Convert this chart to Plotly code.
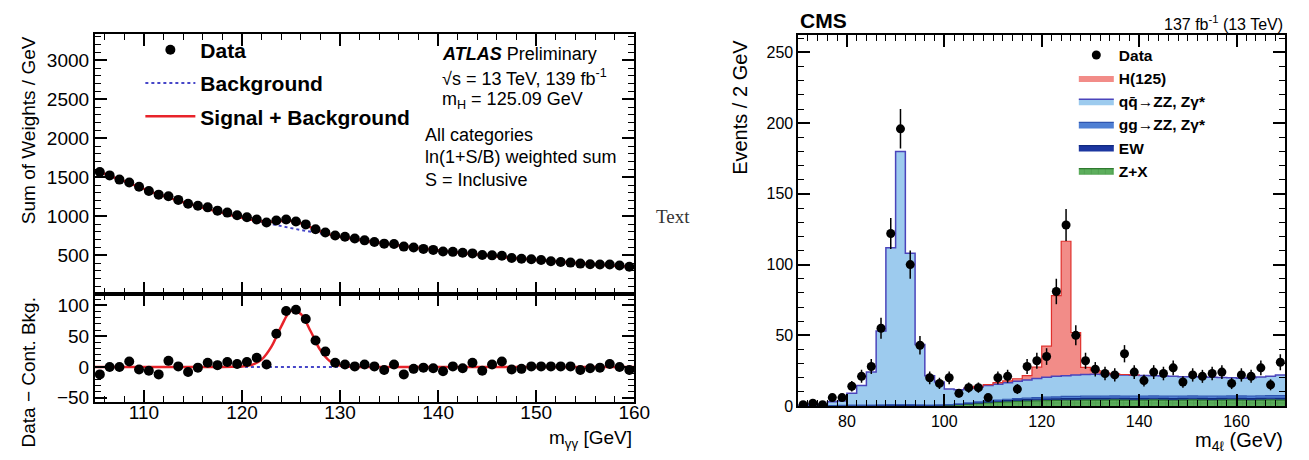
import numpy as np
import plotly.graph_objects as go

W, H = 1309, 460


def px(x):
    return x / W


def py(y):
    return 1 - y / H


# ---------------- ATLAS (left) ----------------
atlas_centres = np.arange(105.5, 160.0, 1.0)
atlas_data = [1567, 1524, 1470, 1432, 1378, 1323, 1277, 1256, 1210, 1160,
              1134, 1114, 1072, 1047, 1013, 988, 959, 921, 946, 959,
              934, 896, 833, 792, 754, 737, 714, 691, 670, 649,
              645, 611, 599, 582, 569, 549, 544, 532, 524, 503,
              499, 494, 465, 456, 448, 440, 423, 415, 406, 393,
              386, 381, 381, 368, 352]
atlas_resid = [-12, 0, 0, 9, -4, -6, -12, 10, 1, -8,
               -1, 7, 3, 8, 5, 8, 15, 4, 54, 91,
               93, 78, 43, 25, 7, 4, 1, 4, 1, -5,
               4, -12, -3, -1, -2, -7, 1, -2, 7, -6,
               4, 9, -4, -3, 1, 1, 1, 1, 1, -5,
               -2, -1, 5, 0, -5]

curve_mass = np.arange(105, 161, 1.0)
bkg_curve = [1580, 1545, 1495, 1450, 1400, 1350, 1300, 1260, 1220, 1180,
             1145, 1110, 1075, 1045, 1010, 980, 952, 925, 898, 872,
             848, 824, 800, 778, 756, 736, 716, 697, 678, 660,
             643, 626, 610, 594, 579, 564, 550, 536, 523, 510,
             497, 485, 473, 462, 451, 440, 430, 420, 410, 401,
             392, 383, 375, 367, 359, 351]
sig_curve = [0, 0, 0, 0, 0, 0, 0, 0, 0, 0,
             0, 0, 0, 0, 0.3, 1, 3.5, 12, 33, 66,
             91, 86, 58, 27, 9, 2.5, 0.5, 0, 0, 0,
             0, 0, 0, 0, 0, 0, 0, 0, 0, 0,
             0, 0, 0, 0, 0, 0, 0, 0, 0, 0,
             0, 0, 0, 0, 0, 0]

# ---------------- CMS (right) ----------------
cms_edges = np.arange(70, 172, 2)
cms_centres = cms_edges[:-1] + 1
cms_data = [1, 2, 1, 6, 6, 14, 21, 28, 55, 122,
            196, 100, 43, 20, 16, 20, 9, 13, 13, 6,
            20, 21, 12, 28, 32, 35, 81, 128, 50, 32,
            26, 23, 22, 37, 24, 18, 24, 23, 27, 17,
            22, 21, 23, 24, 16, 22, 21, 27, 15, 31]
cms_err = [1, 1.4, 1, 2.4, 2.4, 3.7, 4.6, 5.3, 7.4, 11,
           14, 10, 6.6, 4.5, 4, 4.5, 3, 3.6, 3.6, 2.4,
           4.5, 4.6, 3.5, 5.3, 5.7, 5.9, 9, 11.3, 7.1, 5.7,
           5.1, 4.8, 4.7, 6.1, 4.9, 4.2, 4.9, 4.8, 5.2, 4.1,
           4.7, 4.6, 4.8, 4.9, 4, 4.7, 4.6, 5.2, 3.9, 5.6]
zx = [0.1, 0.1, 0.1, 0.1, 0.2, 0.2, 0.2, 0.2, 0.3, 0.3,
      0.3, 0.3, 0.3, 0.3, 0.4, 0.5, 0.8, 1.2, 1.7, 2.2,
      2.6, 3.0, 3.3, 3.5, 3.7, 3.9, 4.0, 4.1, 4.1, 4.2,
      4.2, 4.2, 4.3, 4.2, 4.1, 4.2, 4.3, 4.2, 4.1, 4.2,
      4.3, 4.2, 4.1, 4.2, 4.3, 4.2, 4.1, 4.2, 4.3, 4.2]
ew = [0.1, 0.1, 0.1, 0.1, 0.1, 0.1, 0.1, 0.1, 0.1, 0.1,
      0.1, 0.1, 0.1, 0.1, 0.2, 0.3, 0.4, 0.5, 0.6, 0.7,
      0.8, 0.9, 1.0, 1.0, 1.1, 1.1, 1.1, 1.2, 1.2, 1.2,
      1.2, 1.2, 1.2, 1.2, 1.2, 1.2, 1.2, 1.2, 1.2, 1.2,
      1.2, 1.2, 1.2, 1.2, 1.2, 1.2, 1.2, 1.2, 1.2, 1.2]
gg = [0.1, 0.1, 0.1, 0.1, 0.2, 0.3, 0.3, 0.4, 0.5, 0.6,
      0.7, 0.6, 0.4, 0.3, 0.3, 0.3, 0.4, 0.5, 0.6, 0.7,
      0.8, 0.9, 1.0, 1.1, 1.2, 1.3, 1.4, 1.5, 1.5, 1.6,
      1.6, 1.7, 1.7, 1.7, 1.7, 1.7, 1.7, 1.7, 1.7, 1.7,
      1.7, 1.7, 1.7, 1.7, 1.7, 1.8, 1.8, 1.9, 1.9, 2.0]
qq = [0.7, 0.9, 1.2, 2.7, 3.0, 8.4, 13.9, 23.3, 52.1, 111.0,
      178.9, 107.0, 42.7, 20.8, 16.1, 10.9, 9.9, 10.3, 10.6, 10.9,
      11.3, 11.7, 12.2, 12.9, 13.5, 14.0, 14.5, 14.7, 15.2, 15.3,
      15.5, 15.2, 15.0, 14.9, 14.8, 14.5, 14.2, 14.1, 14.0, 13.7,
      13.5, 13.4, 13.3, 13.1, 12.8, 12.4, 12.9, 13.2, 13.6, 14.6]
h125 = [0, 0, 0, 0, 0, 0, 0, 0, 0, 0,
        0, 0, 0, 0, 0, 0, 0, 0.3, 0.5, 0.7,
        1.0, 1.3, 1.8, 3.0, 8.0, 22, 57, 95, 30, 5,
        2.5, 1.0, 0.5, 0.3, 0.2, 0.1, 0, 0, 0, 0,
        0, 0, 0, 0, 0, 0, 0, 0, 0, 0]

FONT = "Liberation Sans, Arial, sans-serif"
BLACK = "black"
RED = "#e8232a"
BKGBLUE = "#4646c8"

fig = go.Figure()

# --- ATLAS top panel ---
fig.add_trace(go.Scatter(x=curve_mass, y=bkg_curve, mode="lines", xaxis="x", yaxis="y",
                         line=dict(color=BKGBLUE, width=2, dash="dot"),
                         name="<b>Background</b>", legend="legend", legendgroup="b",
                         legendrank=2))
fig.add_trace(go.Scatter(x=curve_mass, y=np.array(bkg_curve) + np.array(sig_curve),
                         mode="lines", xaxis="x", yaxis="y",
                         line=dict(color=RED, width=2.5, shape="spline"),
                         name="<b>Signal + Background</b>", legend="legend",
                         legendgroup="sb", legendrank=3))
fig.add_trace(go.Scatter(x=atlas_centres, y=atlas_data, mode="markers", xaxis="x", yaxis="y",
                         marker=dict(color=BLACK, size=10),
                         error_y=dict(type="constant", value=12, color=BLACK, thickness=1.5, width=0),
                         name="<b>Data</b>", legend="legend", legendgroup="d", legendrank=1))

# --- ATLAS bottom panel ---
fig.add_trace(go.Scatter(x=curve_mass, y=np.zeros(len(curve_mass)), mode="lines",
                         xaxis="x2", yaxis="y2",
                         line=dict(color=BKGBLUE, width=2, dash="dot"), showlegend=False))
fig.add_trace(go.Scatter(x=curve_mass, y=sig_curve, mode="lines", xaxis="x2", yaxis="y2",
                         line=dict(color=RED, width=2.5, shape="spline"), showlegend=False))
fig.add_trace(go.Scatter(x=atlas_centres, y=atlas_resid, mode="markers", xaxis="x2", yaxis="y2",
                         marker=dict(color=BLACK, size=10),
                         error_y=dict(type="constant", value=7, color=BLACK, thickness=1.5, width=0),
                         showlegend=False))


# --- CMS stacked histogram ---
def stepped(vals):
    return list(vals) + [vals[-1]]


stack_specs = [
    (zx, "<b>Z+X</b>", "#5cae5c", "#2f7a2f", 1.2, 6),
    (ew, "<b>EW</b>", "#1c36a0", "#102a80", 1.2, 5),
    (gg, "<b>gg→ZZ, Zγ*</b>", "#4f7fd3", "#2f55b0", 1.2, 4),
    (qq, "<b>q" + "q\u0304" + "→ZZ, Zγ*</b>", "#9dcbee", "#4a44bb", 1.5, 3),
    (h125, "<b>H(125)</b>", "#f28c88", "#f28c88", 0, 2),
]
for vals, name, fcol, lcol, lw, rank in stack_specs:
    kw = {}
    if rank == 6:
        kw["fillpattern"] = dict(shape="+", fgcolor="#3d8a3d", bgcolor=fcol, size=7, solidity=0.2)
    fig.add_trace(go.Scatter(x=cms_edges, y=stepped(vals), mode="lines", xaxis="x3", yaxis="y3",
                             stackgroup="cms", fillcolor=fcol,
                             line=dict(color=lcol, width=lw, shape="hv"),
                             name=name, legend="legend2", legendrank=rank, **kw))

# red outline of the Higgs contribution only where it is present
stack_total = (np.array(zx) + np.array(ew) + np.array(gg) + np.array(qq) + np.array(h125))
h_outline = [t if h > 0 else None for t, h in zip(stack_total, h125)]
fig.add_trace(go.Scatter(x=cms_edges, y=stepped(h_outline), mode="lines", xaxis="x3", yaxis="y3",
                         line=dict(color="#e0302c", width=1.2, shape="hv"),
                         showlegend=False, connectgaps=False))

fig.add_trace(go.Scatter(x=cms_centres, y=cms_data, mode="markers", xaxis="x3", yaxis="y3",
                         marker=dict(color=BLACK, size=9),
                         error_y=dict(type="data", array=cms_err, color=BLACK, thickness=1.5, width=0),
                         name="<b>Data</b>", legend="legend2", legendrank=1))

axis_common = dict(showline=True, linecolor=BLACK, linewidth=2, mirror="allticks",
                   ticks="inside", tickcolor=BLACK, tickwidth=1.5, showgrid=False,
                   zeroline=False, tickfont=dict(family=FONT, size=19, color=BLACK))
cms_axis = {**axis_common, "linewidth": 1.5, "tickfont": dict(family=FONT, size=16, color=BLACK)}

fig.update_layout(
    width=W, height=H, autosize=False,
    margin=dict(l=0, r=0, t=0, b=0),
    paper_bgcolor="white", plot_bgcolor="white",
    showlegend=True,
    xaxis=dict(domain=[px(88), px(634)], range=[105, 160], anchor="y",
               tickvals=[110, 120, 130, 140, 150, 160], showticklabels=False, ticklen=12,
               minor=dict(ticks="inside", dtick=2, ticklen=6, tickcolor=BLACK, tickwidth=1),
               **axis_common),
    yaxis=dict(domain=[py(292), py(27)], range=[0, 3330], anchor="x",
               tickvals=[500, 1000, 1500, 2000, 2500, 3000], ticklen=12,
               minor=dict(ticks="inside", dtick=100, ticklen=6, tickcolor=BLACK, tickwidth=1),
               **axis_common),
    xaxis2=dict(domain=[px(88), px(634)], range=[105, 160], anchor="y2",
                tickvals=[110, 120, 130, 140, 150, 160], ticklen=12, ticklabelstandoff=-8,
                minor=dict(ticks="inside", dtick=2, ticklen=6, tickcolor=BLACK, tickwidth=1),
                **axis_common),
    yaxis2=dict(domain=[py(402), py(292)], range=[-57, 118], anchor="x2",
                tickvals=[-50, 0, 50, 100], ticklen=12,
                minor=dict(ticks="inside", dtick=10, ticklen=6, tickcolor=BLACK, tickwidth=1),
                **axis_common),
    xaxis3=dict(domain=[px(800), px(1293)], range=[70, 170], anchor="y3",
                tickvals=[80, 100, 120, 140, 160], ticklen=12,
                minor=dict(ticks="inside", dtick=2, ticklen=6, tickcolor=BLACK, tickwidth=1),
                **cms_axis),
    yaxis3=dict(domain=[py(406), py(28)], range=[0, 262], anchor="x3",
                tickvals=[0, 50, 100, 150, 200, 250], ticklen=12,
                minor=dict(ticks="inside", dtick=10, ticklen=6, tickcolor=BLACK, tickwidth=1),
                **cms_axis),
    legend=dict(x=px(134), y=py(22), xanchor="left", yanchor="top",
                font=dict(family=FONT, size=21, color=BLACK), bgcolor="rgba(0,0,0,0)",
                itemwidth=50, tracegroupgap=3, traceorder="grouped"),
    legend2=dict(x=px(1079), y=py(31), xanchor="left", yanchor="top",
                 font=dict(family=FONT, size=15.5, color=BLACK), bgcolor="rgba(0,0,0,0)",
                 itemwidth=35, traceorder="normal"),
)

ann = []


def text(x, y, s, size, xanchor="left", angle=0, yanchor="middle", family=FONT, color=BLACK):
    ann.append(dict(x=px(x), y=py(y), xref="paper", yref="paper", text=s, showarrow=False,
                    xanchor=xanchor, yanchor=yanchor, textangle=angle,
                    font=dict(family=family, size=size, color=color)))


# ATLAS labels
text(437, 47, "<b><i>ATLAS</i></b> Preliminary", 18)
text(437, 71, "√s = 13 TeV, 139 fb<sup>-1</sup>", 18)
text(437, 94, "m<sub>H</sub> = 125.09 GeV", 18)
text(420, 130, "All categories", 18)
text(420, 152, "ln(1+S/B) weighted sum", 18)
text(420, 175, "S = Inclusive", 18)
text(21, 27, "Sum of Weights / GeV", 19, xanchor="center", angle=-90, yanchor="top")
text(21, 292, "Data − Cont. Bkg.", 19, xanchor="center", angle=-90, yanchor="top")
text(634, 440, "m<sub>γγ</sub> [GeV]", 19, xanchor="right")
text(673, 213, "Text", 19, xanchor="center", family="Liberation Serif, Times New Roman, serif",
     color="#333333")

# CMS labels
text(800, 13, "<b>CMS</b>", 21)
text(1293, 15, "137 fb<sup>-1</sup> (13 TeV)", 16, xanchor="right")
text(741, 30, "Events / 2 GeV", 20, xanchor="center", angle=-90, yanchor="top")
text(1293, 442, "m<sub>4ℓ</sub> (GeV)", 20, xanchor="right")

fig.update_layout(annotations=ann)

fig.write_html("out.html")
